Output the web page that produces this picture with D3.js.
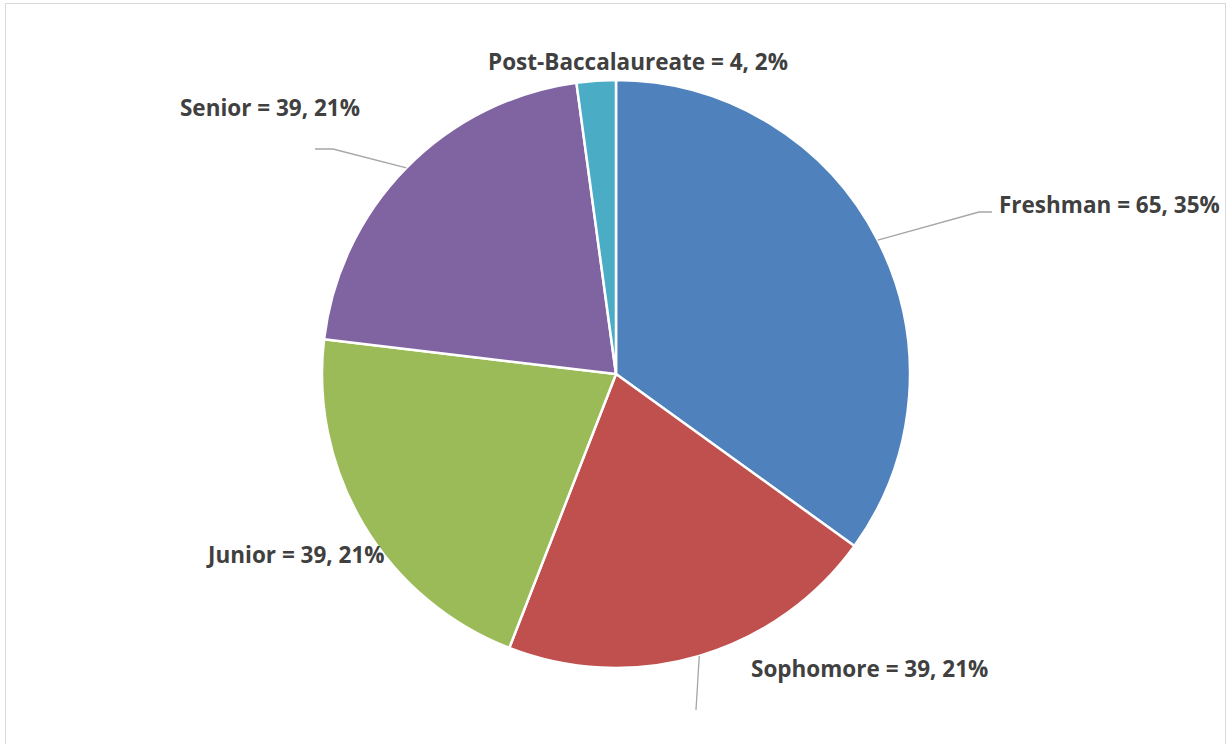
<!DOCTYPE html>
<html>
<head>
<meta charset="utf-8">
<script src="https://cdn.jsdelivr.net/npm/d3@7"></script>
<style>
  body { margin: 0; background: #fff; }
</style>
</head>
<body>
<svg id="chart" width="1227" height="744"></svg>
<script>
var categories = ['Freshman', 'Sophomore', 'Junior', 'Senior', 'Post-Baccalaureate'];
var counts = [65, 39, 39, 39, 4];
var percents = ['35%', '21%', '21%', '21%', '2%'];
var colors = ['#4F81BD', '#C0504D', '#9BBB59', '#8064A2', '#4BACC6'];

var width = 1227,
    height = 744,
    cx = 616,
    cy = 374,
    radius = 294;

// label placement (text anchor point, anchor type) and leader line elbows
var labelPos = [
  { x: 999, y: 213, anchor: 'start', line: [[979, 212], [992, 212]] },
  { x: 751, y: 677, anchor: 'start', line: [[696, 710]] },
  { x: 208, y: 563, anchor: 'start', line: null },
  { x: 360, y: 116, anchor: 'end', line: [[333, 149], [315, 149]] },
  { x: 638, y: 70, anchor: 'middle', line: null }
];

var svg = d3.select('#chart');

// outer frame
svg.append('rect')
  .attr('x', 5.5)
  .attr('y', 3.5)
  .attr('width', 1220)
  .attr('height', 760)
  .attr('fill', 'none')
  .attr('stroke', '#d9d9d9')
  .attr('stroke-width', 1);

var pie = d3.pie().sort(null).value(d => d);
var arcs = pie(counts);
var arc = d3.arc().innerRadius(0).outerRadius(radius);

var g = svg.append('g').attr('transform', `translate(${cx},${cy})`);

g.selectAll('path.slice')
  .data(arcs)
  .enter().append('path')
  .attr('class', 'slice')
  .attr('d', arc)
  .attr('fill', (d, i) => colors[i])
  .attr('stroke', '#fff')
  .attr('stroke-width', 2.5)
  .attr('stroke-linejoin', 'round');

/* leader lines */
arcs.forEach((d, i) => {
  var lp = labelPos[i];
  if (!lp.line) return;
  var mid = (d.startAngle + d.endAngle) / 2;
  var start = [cx + radius * Math.sin(mid), cy - radius * Math.cos(mid)];
  svg.append('path')
    .attr('d', d3.line()([start].concat(lp.line)))
    .attr('fill', 'none')
    .attr('stroke', '#a6a6a6')
    .attr('stroke-width', 1.3);
});

svg.selectAll('text.label')
  .data(arcs)
  .enter().append('text')
  .attr('class', 'label')
  .attr('x', (d, i) => labelPos[i].x)
  .attr('y', (d, i) => labelPos[i].y)
  .attr('text-anchor', (d, i) => labelPos[i].anchor)
  .attr('font-family', '"Open Sans", Lato, sans-serif')
  .attr('font-weight', 'bold')
  .attr('font-size', '22.5px')
  .attr('fill', '#404040')
  .text((d, i) => `${categories[i]} = ${counts[i]}, ${percents[i]}`);
</script>
</body>
</html>
